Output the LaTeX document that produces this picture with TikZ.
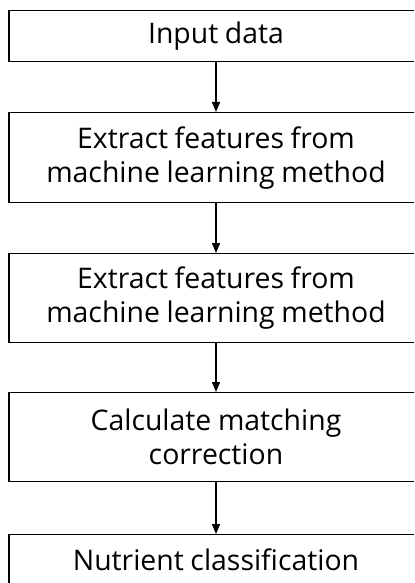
\documentclass[tikz,border=0pt]{standalone}
\usepackage{fontspec}
\setmainfont{Open Sans}[WordSpace=0.9]
\usetikzlibrary{arrows.meta}
\begin{document}
\begin{tikzpicture}[x=1bp,y=1bp,
  box/.style={draw=black,line width=1.3bp,minimum width=414bp,inner sep=0pt,align=center,font=\fontsize{28.5}{34}\selectfont,anchor=north},
  conn/.style={line width=1.3bp,-{Triangle[width=8bp,length=10bp]}}]
\useasboundingbox (0,0) rectangle (414,-583);
\clip (0,0) rectangle (414,-583);
\node[box,minimum height=51bp] (b1) at (216,-10) {Input data};
\node[box,minimum height=90bp] (b2) at (216,-112) {Extract features from\\machine learning method};
\node[box,minimum height=89bp] (b3) at (216,-253) {Extract features from\\machine learning method};
\node[box,minimum height=89bp] (b4) at (216,-392) {Calculate matching\\correction};
\node[box,minimum height=51bp] (b5) at (216,-534) {Nutrient classification};
\draw[conn] (b1) -- (b2);
\draw[conn] (b2) -- (b3);
\draw[conn] (b3) -- (b4);
\draw[conn] (b4) -- (b5);
\end{tikzpicture}
\end{document}
